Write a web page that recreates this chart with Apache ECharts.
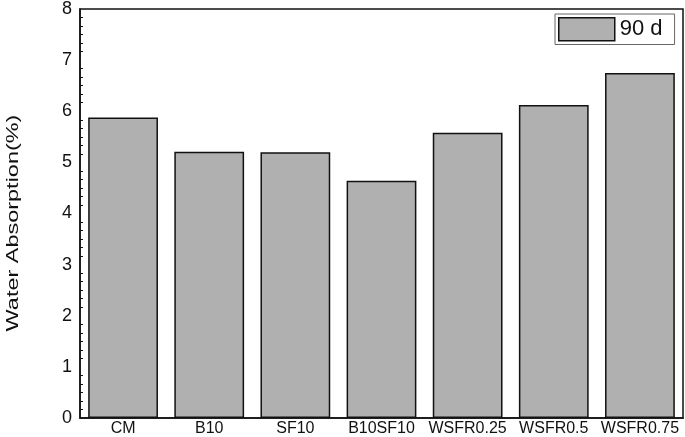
<!DOCTYPE html>
<html><head><meta charset="utf-8">
<script src="https://cdn.jsdelivr.net/npm/echarts@6/dist/echarts.min.js"></script>
<style>html,body{margin:0;padding:0;background:#fff}#c{width:685px;height:437px}</style>
</head><body><div id="c"></div>
<script>
const categories = ['CM','B10','SF10','B10SF10','WSFR0.25','WSFR0.5','WSFR0.75'];
const values90d = [5.88, 5.21, 5.20, 4.64, 5.58, 6.12, 6.75];
const seriesName = '90 d';
const yTicks = [0,1,2,3,4,5,6,7,8];
const yAxisTitle = 'Water Absorption(%)';

const chart = echarts.init(document.getElementById('c'));
const font = 'Liberation Sans, Arial, sans-serif';
const gridTop = 8, gridBottomPx = 421;
chart.setOption({
  animation: false,
  grid: {left: 80, right: 2, top: gridTop, bottom: 437 - gridBottomPx, containLabel: false,
    show: true, borderColor: '#111', borderWidth: 1.5, backgroundColor: 'transparent'},
  legend: {
    data: [seriesName], left: 555, top: 14, itemWidth: 56, itemHeight: 23, icon: 'rect',
    borderColor: '#666', borderWidth: 1, padding: [3, 12, 3, 3],
    textStyle: {fontFamily: font, fontSize: 22, color: '#111'},
    itemStyle: {borderColor: '#111', borderWidth: 1.5}
  },
  graphic: [{
    type: 'text', x: 13, y: 223, rotation: Math.PI / 2, scaleX: 1.38,
    style: {text: yAxisTitle, fontFamily: font, fontSize: 17, fill: '#111',
      align: 'center', verticalAlign: 'middle'}
  }],
  xAxis: [{
    type: 'category', data: categories, position: 'bottom',
    axisLine: {lineStyle: {color: '#111', width: 1.5}},
    axisTick: {inside: true, alignWithLabel: true, length: 5, lineStyle: {color: '#111', width: 1.2}},
    axisLabel: {fontFamily: font, fontSize: 16, color: '#111', margin: 3, interval: 0}
  }, {
    type: 'category', data: categories, position: 'top', offset: -(gridBottomPx - gridTop),
    axisLine: {show: false},
    axisTick: {inside: false, length: 2.5, lineStyle: {color: '#111', width: 1.2}},
    axisLabel: {show: false}
  }],
  yAxis: [{
    type: 'value', min: 0, max: 8, interval: 1,
    axisLine: {show: true, lineStyle: {color: '#111', width: 1.5}},
    axisTick: {inside: true, length: 5, lineStyle: {color: '#111', width: 1.2}},
    minorTick: {show: true, splitNumber: 6, length: 3, lineStyle: {color: '#111'}},
    splitLine: {show: false},
    axisLabel: {fontFamily: font, fontSize: 18, color: '#111', margin: 8,
      formatter: v => yTicks.includes(v) ? String(v) : ''}
  }],
  series: [{
    name: seriesName, type: 'bar', data: values90d, barCategoryGap: '19%',
    itemStyle: {color: '#b0b0b0', borderColor: '#111', borderWidth: 1.5}
  }]
});
</script></body></html>
